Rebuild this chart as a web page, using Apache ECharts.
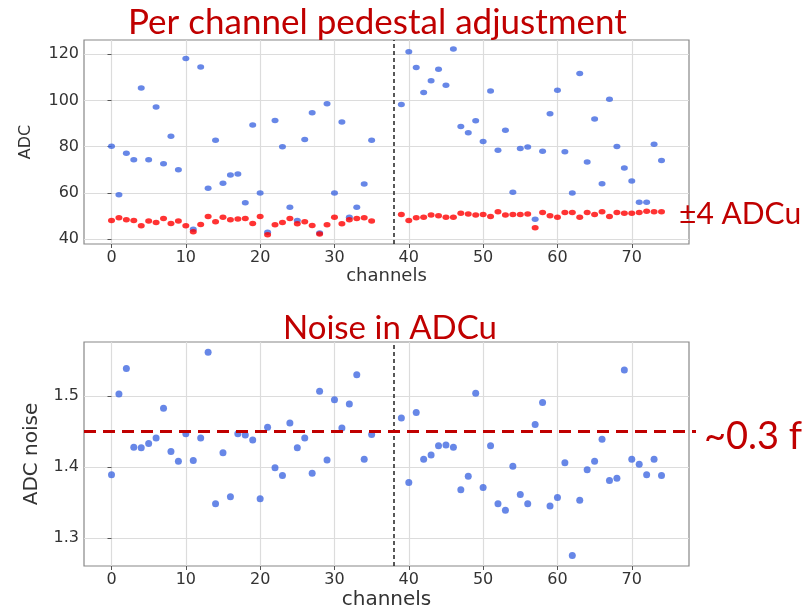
<!DOCTYPE html>
<html><head><meta charset="utf-8">
<script src="https://cdn.jsdelivr.net/npm/echarts@6/dist/echarts.min.js"></script>
<style>html,body{margin:0;padding:0;background:#fff}#c{width:805px;height:613px}</style>
</head><body><div id="c"></div>
<script>
const channels = [0,1,2,3,4,5,6,7,8,9,10,11,12,13,14,15,16,17,18,19,20,21,22,23,24,25,26,27,28,29,30,31,32,33,34,35,
  39,40,41,42,43,44,45,46,47,48,49,50,51,52,53,54,55,56,57,58,59,60,61,62,63,64,65,66,67,68,69,70,71,72,73,74];
const pedestalBefore = [80.2,59.2,77.1,74.3,105.3,74.3,97.1,72.6,84.5,70.0,118.1,44.3,114.4,62.0,82.8,64.2,67.7,68.2,55.7,89.3,60.0,43.0,91.3,79.9,53.8,48.1,83.1,94.6,42.7,98.5,60.0,90.6,49.5,53.8,63.8,82.8,
  98.2,121.0,114.2,103.4,108.5,113.4,106.5,122.2,88.7,86.0,91.2,82.2,104.1,78.4,87.1,60.3,79.2,79.8,48.6,78.0,94.2,104.4,77.8,60.0,111.6,73.4,91.9,64.0,100.5,80.1,70.8,65.1,56.0,56.0,81.0,74.0];
const pedestalAfter = [48.1,49.2,48.4,48.1,45.8,47.8,47.2,48.9,46.8,47.8,45.8,43.2,46.3,49.8,47.5,49.5,48.4,48.7,48.9,46.8,49.8,41.9,46.2,47.2,48.9,46.7,47.5,45.9,42.2,46.2,49.5,46.7,48.4,48.9,49.2,47.8,
  50.7,48.1,49.2,49.5,50.4,50.1,49.5,49.5,51.2,50.9,50.4,50.7,49.8,51.8,50.4,50.7,50.7,50.9,44.9,51.5,50.1,49.5,51.5,51.5,49.5,51.5,50.7,51.8,49.8,51.5,51.2,51.2,51.5,52.1,51.8,51.8];
const noise = [1.389,1.503,1.539,1.428,1.427,1.433,1.441,1.483,1.422,1.408,1.447,1.409,1.441,1.562,1.348,1.420,1.358,1.447,1.445,1.438,1.355,1.456,1.399,1.388,1.462,1.427,1.441,1.391,1.507,1.410,1.495,1.455,1.489,1.530,1.411,1.446,
  1.469,1.378,1.477,1.411,1.417,1.430,1.431,1.428,1.368,1.387,1.504,1.371,1.430,1.348,1.339,1.401,1.361,1.348,1.460,1.491,1.345,1.357,1.406,1.275,1.353,1.396,1.408,1.439,1.381,1.384,1.537,1.411,1.404,1.389,1.411,1.388];
const xTicks = [0,10,20,30,40,50,60,70];
const adcTicks = [40,60,80,100,120];
const noiseTicks = [1.3,1.4,1.5];
const boardSplit = 38;
const noiseLevel = 1.45;
const titles = ['Per channel pedestal adjustment','Noise in ADCu'];
const notes = ['±4 ADCu','~0.3 f'];

const RED = '#c00000';
const tickFont = 'DejaVu Sans';
const pair = (xs, ys) => xs.map((x,i)=>[x, ys[i]]);

function xAxisCfg(idx, gap, nameSize){
  return {
    gridIndex: idx, type:'value', min:-3.7, max:77.7,
    name:'channels', nameLocation:'middle', nameGap:gap,
    nameTextStyle:{fontFamily:tickFont, fontSize:nameSize, color:'#333'},
    axisLine:{show:false},
    axisTick:{show:true, length:4, lineStyle:{color:'#555'}, customValues:xTicks},
    axisLabel:{fontFamily:tickFont, fontSize:16, color:'#333', margin:6, customValues:xTicks},
    splitLine:{show:true, lineStyle:{color:'#dcdcdc', width:1.2}}
  };
}
function yAxisCfg(idx, min, max, ticks, name, gap, nameSize){
  return {
    gridIndex: idx, type:'value', min:min, max:max,
    name:name, nameLocation:'middle', nameGap:gap, nameRotate:90,
    nameTextStyle:{fontFamily:tickFont, fontSize:nameSize, color:'#333'},
    axisLine:{show:false},
    axisTick:{show:true, length:4, lineStyle:{color:'#555'}, customValues:ticks},
    axisLabel:{fontFamily:tickFont, fontSize:16, color:'#333', margin:5, customValues:ticks},
    splitLine:{show:true, lineStyle:{color:'#dcdcdc', width:1.2}}
  };
}
const vline = {
  silent:true, symbol:'none', label:{show:false},
  lineStyle:{color:'#222', type:[4,3], width:1.5},
  data:[{xAxis:boardSplit}]
};

const chart = echarts.init(document.getElementById('c'), null, {renderer:'canvas'});
chart.setOption({
  animation:false,
  backgroundColor:'#fff',
  title:[
    {text:titles[0], left:123, top:0, textStyle:{fontFamily:'Lato', fontWeight:'normal', fontSize:35, color:RED}},
    {text:titles[1], left:278, top:307, textStyle:{fontFamily:'Lato', fontWeight:'normal', fontSize:33, color:RED}}
  ],
  grid:[
    {left:84, right:116, top:40, height:204, show:true, borderColor:'#888', borderWidth:1.2, backgroundColor:'transparent'},
    {left:84, right:116, top:342, height:224, show:true, borderColor:'#888', borderWidth:1.2, backgroundColor:'transparent'}
  ],
  xAxis:[xAxisCfg(0, 19, 18), xAxisCfg(1, 24, 20)],
  yAxis:[yAxisCfg(0, 37.9, 126.1, adcTicks, 'ADC', 50, 16), yAxisCfg(1, 1.2602, 1.5764, noiseTicks, 'ADC noise', 42, 20)],
  series:[
    {type:'scatter', xAxisIndex:0, yAxisIndex:0, data:pair(channels, pedestalBefore), symbolSize:[7,5.5],
     itemStyle:{color:'#4169e1'}, markLine:vline, z:2},
    {type:'scatter', xAxisIndex:0, yAxisIndex:0, data:pair(channels, pedestalAfter), symbolSize:[7,5.5],
     itemStyle:{color:'#ff0000'}, z:3},
    {type:'scatter', xAxisIndex:1, yAxisIndex:1, data:pair(channels, noise), symbolSize:7,
     itemStyle:{color:'#4169e1'}, markLine:vline, z:2}
  ]
});
const yNoise = chart.convertToPixel({yAxisIndex:1}, noiseLevel);
const yNote = chart.convertToPixel({yAxisIndex:0}, 50);
chart.setOption({
  graphic:[
    {type:'line', z:10, shape:{x1:84, y1:yNoise, x2:696, y2:yNoise}, style:{stroke:RED, lineWidth:3, lineDash:[12,7]}},
    {type:'text', z:10, left:679, top:yNote-17, style:{text:notes[0], fontFamily:'Lato', fontSize:30, fill:RED}},
    {type:'text', z:10, left:704, top:yNoise-14, style:{text:notes[1], fontFamily:'Lato', fontSize:38, fill:RED}}
  ]
});
</script></body></html>
